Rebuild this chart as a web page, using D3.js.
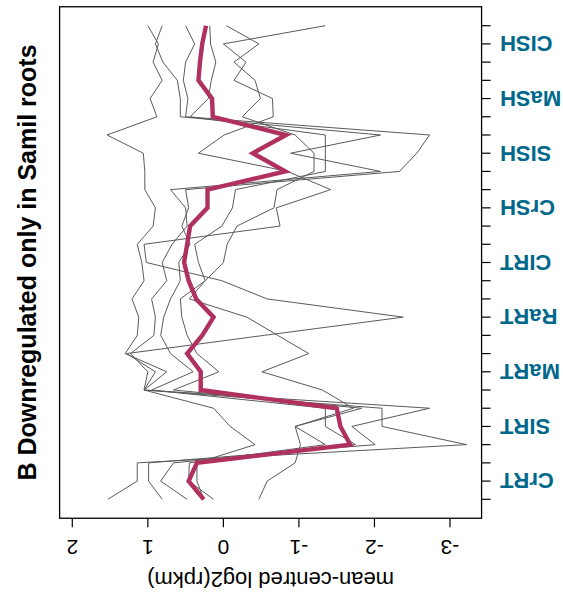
<!DOCTYPE html>
<html>
<head>
<meta charset="utf-8">
<script src="https://cdn.jsdelivr.net/npm/d3@7"></script>
<style>
  html, body { margin: 0; padding: 0; background: #fff; }
  svg { display: block; font-family: "Liberation Sans", Arial, Helvetica, sans-serif; }
</style>
</head>
<body>
<svg id="chart" width="563" height="597"></svg>
<script>
// Tissue groups (three replicate libraries each), from the first to the last position
const categories = ["CrRT", "SIRT", "MaRT", "RaRT", "CIRT", "CrSH", "SISH", "MaSH", "CISH"];
const replicates = 3;
const valueTicks = [2, 1, 0, -1, -2, -3];

// mean-centred log2(rpkm) of each gene, one value per library
const gene1 = [1.53, 1.14, 1.14, -3.22, -2.10, -2.10, 1.05, 0.75, 1.30, 1.14, 1.12, 1.21, 1.05, 1.08, 1.14, 0.93, 0.90, 1.04, 1.04, 1.06, 1.54, 0.88, 0.97, 0.81, 0.93, 0.86, 1.00];
const gene2 = [0.81, 0.99, 0.99, -2.01, -1.70, -2.73, 1.05, 1.00, 1.23, 0.92, 0.90, 0.95, 0.75, 0.81, 0.68, 0.48, 0.50, 0.70, -2.08, -0.89, -2.08, 0.57, 0.57, 0.61, 0.80, 0.90, 0.81];
const gene3 = [0.48, 0.83, 0.66, -1.75, -1.35, -1.35, 0.95, 0.40, 0.70, 0.83, 0.79, 0.70, 0.57, 0.59, 0.44, 0.55, 0.46, 0.50, -2.33, -2.56, -2.73, 0.50, 0.47, 0.53, 0.50, 0.38, 0.50];
const gene4 = [0.13, 0.46, 0.45, -1.35, -0.95, -1.83, 0.66, 0.06, 0.35, 0.48, 0.55, 0.57, 0.24, 0.33, 0.38, 0.02, -0.12, -0.16, -1.35, -1.35, -1.35, 0.44, 0.20, 0.16, 0.10, 0.17, 0.18];
const gene5 = [-0.47, -0.58, -0.95, -1.02, -0.95, -1.72, -1.31, -0.51, -1.13, -0.72, -0.31, 0.45, 0.24, 0.00, -0.05, -0.18, -0.67, -0.71, -1.20, -1.20, -0.95, -0.25, -0.49, -0.42, -0.14, -0.47, -0.04];
const gene6 = [0.26, 0.35, 0.35, -0.42, -0.09, 0.13, 1.05, 0.90, 1.28, -0.54, -2.38, -0.58, 0.02, 1.02, 1.05, -0.75, -0.70, -1.42, -0.85, 0.33, -0.01, -0.66, -0.65, -0.14, -0.30, 0.00, -1.35];
// cluster centre profile
const clusterMean = [0.26, 0.46, 0.35, -1.68, -1.55, -1.50, 0.30, 0.30, 0.48, 0.28, 0.13, 0.36, 0.46, 0.52, 0.48, 0.44, 0.21, 0.21, -0.82, -0.39, -0.83, 0.14, 0.15, 0.33, 0.31, 0.28, 0.23];

const titleText = "B Downregulated only in Samil roots";
const valueLabel = "mean-centred log2(rpkm)";

const genes = [gene1, gene2, gene3, gene4, gene5, gene6];
const nPos = categories.length * replicates;

const svg = d3.select("#chart");

// Library position runs bottom to top, value runs right (low) to left (high)
const y = d3.scaleLinear().domain([1, nPos]).range([499.3, 25.7]);
const x = d3.scaleLinear().domain([2, -3]).range([72.3, 450]);

const pad = (nPos - 1) * 0.04;
const frameTop = y(nPos + pad), frameBottom = y(1 - pad);
const frameLeft = x(2.168), frameRight = x(-3.418);

const line = d3.line()
  .x(d => x(d))
  .y((d, i) => y(i + 1));

const plot = svg.append("g");
plot.selectAll("path.gene")
  .data(genes)
  .join("path")
  .attr("class", "gene")
  .attr("d", line)
  .attr("fill", "none")
  .attr("stroke", "#5a5a5a")
  .attr("stroke-width", 1)
  .attr("stroke-linejoin", "miter");

plot.append("path")
  .datum(clusterMean)
  .attr("d", line)
  .attr("fill", "none")
  .attr("stroke", "#B03060")
  .attr("stroke-width", 4.4)
  .attr("stroke-linejoin", "miter");

// frame
svg.append("rect")
  .attr("x", frameLeft).attr("y", frameTop)
  .attr("width", frameRight - frameLeft).attr("height", frameBottom - frameTop)
  .attr("fill", "none").attr("stroke", "#000").attr("stroke-width", 1.3);

// value axis along the bottom (labels read upside down)
const vAxis = svg.append("g");
vAxis.selectAll("line")
  .data(valueTicks)
  .join("line")
  .attr("x1", d => x(d)).attr("x2", d => x(d))
  .attr("y1", frameBottom).attr("y2", frameBottom + 9)
  .attr("stroke", "#000").attr("stroke-width", 1.2);
vAxis.selectAll("text")
  .data(valueTicks)
  .join("text")
  .attr("x", d => x(d)).attr("y", 547)
  .attr("dy", "0.35em")
  .attr("text-anchor", "middle")
  .attr("transform", d => `rotate(180, ${x(d)}, 547)`)
  .attr("font-size", 21)
  .attr("fill", "#000")
  .text(d => d);

svg.append("text")
  .attr("x", (frameLeft + frameRight) / 2).attr("y", 580)
  .attr("dy", "0.35em")
  .attr("text-anchor", "middle")
  .attr("transform", `rotate(180, ${(frameLeft + frameRight) / 2}, 580)`)
  .attr("font-size", 22)
  .attr("fill", "#000")
  .text(valueLabel);

// library axis on the right
const positions = d3.range(1, nPos + 1);
const cAxis = svg.append("g");
cAxis.selectAll("line")
  .data(positions)
  .join("line")
  .attr("x1", frameRight).attr("x2", frameRight + 9)
  .attr("y1", d => y(d)).attr("y2", d => y(d))
  .attr("stroke", "#000").attr("stroke-width", 1.2);
cAxis.selectAll("text")
  .data(categories)
  .join("text")
  .attr("x", 500).attr("y", (d, i) => y(i * replicates + 2))
  .attr("dy", "0.35em")
  .attr("text-anchor", "end")
  .attr("transform", (d, i) => `rotate(180, 500, ${y(i * replicates + 2)})`)
  .attr("font-size", 22)
  .attr("font-weight", "bold")
  .attr("fill", "#00688B")
  .text(d => d);

// title
const ty = (frameTop + frameBottom) / 2;
svg.append("text")
  .attr("x", 36).attr("y", ty)
  .attr("text-anchor", "middle")
  .attr("transform", `rotate(-90, 36, ${ty})`)
  .attr("font-size", 25)
  .attr("font-weight", "bold")
  .attr("fill", "#000")
  .text(titleText);
</script>
</body>
</html>
